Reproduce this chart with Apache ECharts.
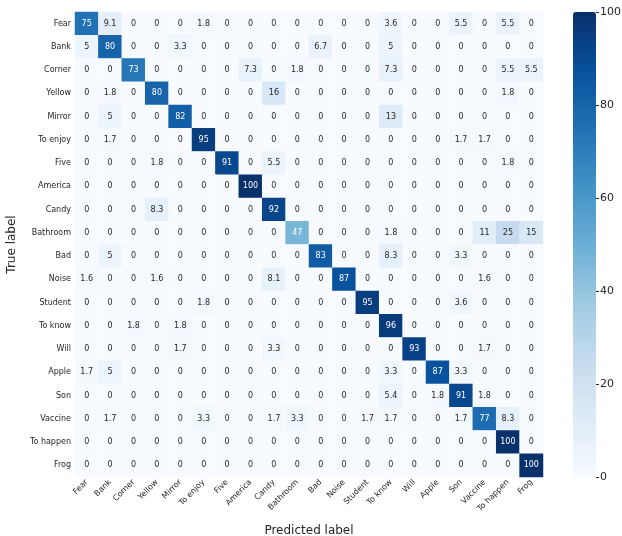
<!DOCTYPE html>
<html>
<head>
<meta charset="utf-8">
<script src="https://cdn.jsdelivr.net/npm/echarts@6/dist/echarts.min.js"></script>
<style>
  html, body { margin: 0; padding: 0; background: #fff; }
  #chart { width: 622px; height: 536px; }
</style>
</head>
<body>
<div id="chart"></div>
<script>
// class names (rows = true label, columns = predicted label)
const labels = ['Fear', 'Bank', 'Corner', 'Yellow', 'Mirror', 'To enjoy', 'Five', 'America', 'Candy', 'Bathroom',
  'Bad', 'Noise', 'Student', 'To know', 'Will', 'Apple', 'Son', 'Vaccine', 'To happen', 'Frog'];

// percentages as shown in the cells
const matrix = [
  [75, 9.1, 0, 0, 0, 1.8, 0, 0, 0, 0, 0, 0, 0, 3.6, 0, 0, 5.5, 0, 5.5, 0],
  [5, 80, 0, 0, 3.3, 0, 0, 0, 0, 0, 6.7, 0, 0, 5, 0, 0, 0, 0, 0, 0],
  [0, 0, 73, 0, 0, 0, 0, 7.3, 0, 1.8, 0, 0, 0, 7.3, 0, 0, 0, 0, 5.5, 5.5],
  [0, 1.8, 0, 80, 0, 0, 0, 0, 16, 0, 0, 0, 0, 0, 0, 0, 0, 0, 1.8, 0],
  [0, 5, 0, 0, 82, 0, 0, 0, 0, 0, 0, 0, 0, 13, 0, 0, 0, 0, 0, 0],
  [0, 1.7, 0, 0, 0, 95, 0, 0, 0, 0, 0, 0, 0, 0, 0, 0, 1.7, 1.7, 0, 0],
  [0, 0, 0, 1.8, 0, 0, 91, 0, 5.5, 0, 0, 0, 0, 0, 0, 0, 0, 0, 1.8, 0],
  [0, 0, 0, 0, 0, 0, 0, 100, 0, 0, 0, 0, 0, 0, 0, 0, 0, 0, 0, 0],
  [0, 0, 0, 8.3, 0, 0, 0, 0, 92, 0, 0, 0, 0, 0, 0, 0, 0, 0, 0, 0],
  [0, 0, 0, 0, 0, 0, 0, 0, 0, 47, 0, 0, 0, 1.8, 0, 0, 0, 11, 25, 15],
  [0, 5, 0, 0, 0, 0, 0, 0, 0, 0, 83, 0, 0, 8.3, 0, 0, 3.3, 0, 0, 0],
  [1.6, 0, 0, 1.6, 0, 0, 0, 0, 8.1, 0, 0, 87, 0, 0, 0, 0, 0, 1.6, 0, 0],
  [0, 0, 0, 0, 0, 1.8, 0, 0, 0, 0, 0, 0, 95, 0, 0, 0, 3.6, 0, 0, 0],
  [0, 0, 1.8, 0, 1.8, 0, 0, 0, 0, 0, 0, 0, 0, 96, 0, 0, 0, 0, 0, 0],
  [0, 0, 0, 0, 1.7, 0, 0, 0, 3.3, 0, 0, 0, 0, 0, 93, 0, 0, 1.7, 0, 0],
  [1.7, 5, 0, 0, 0, 0, 0, 0, 0, 0, 0, 0, 0, 3.3, 0, 87, 3.3, 0, 0, 0],
  [0, 0, 0, 0, 0, 0, 0, 0, 0, 0, 0, 0, 0, 5.4, 0, 1.8, 91, 1.8, 0, 0],
  [0, 1.7, 0, 0, 0, 3.3, 0, 0, 1.7, 3.3, 0, 0, 1.7, 1.7, 0, 0, 1.7, 77, 8.3, 0],
  [0, 0, 0, 0, 0, 0, 0, 0, 0, 0, 0, 0, 0, 0, 0, 0, 0, 0, 100, 0],
  [0, 0, 0, 0, 0, 0, 0, 0, 0, 0, 0, 0, 0, 0, 0, 0, 0, 0, 0, 100]
];

const colorbarTicks = [0, 20, 40, 60, 80, 100];

// matplotlib "Blues"
const blues = ['#f7fbff', '#deebf7', '#c6dbef', '#9ecae1', '#6baed6', '#4292c6', '#2171b5', '#08519c', '#08306b'];

const font = 'DejaVu Sans';
const data = [];
matrix.forEach((row, i) => {
  row.forEach((v, j) => {
    data.push({
      value: [j, i, v],
      label: { color: v >= 40 ? '#ffffff' : '#262626' }
    });
  });
});

const chart = echarts.init(document.getElementById('chart'));
chart.setOption({
  animation: false,
  textStyle: { fontFamily: font },
  grid: [
    { left: 75, top: 12, width: 468, height: 465, outerBoundsMode: 'none' },
    { left: 573, top: 12, width: 23, height: 465, outerBoundsMode: 'none' }
  ],
  xAxis: [
    {
      type: 'category',
      data: labels,
      gridIndex: 0,
      position: 'bottom',
      axisLine: { show: false },
      axisTick: { length: 3, alignWithLabel: true, lineStyle: { color: '#262626' } },
      splitLine: { show: false },
      axisLabel: { rotate: 45, fontSize: 8, color: '#262626', margin: 4, interval: 0 },
      name: 'Predicted label',
      nameLocation: 'middle',
      nameGap: 48,
      nameTextStyle: { fontSize: 12, color: '#262626' }
    },
    { type: 'value', gridIndex: 1, show: false, min: 0, max: 1 }
  ],
  yAxis: [
    {
      type: 'category',
      data: labels,
      inverse: true,
      gridIndex: 0,
      axisLine: { show: false },
      axisTick: { length: 3, alignWithLabel: true, lineStyle: { color: '#262626' } },
      splitLine: { show: false },
      axisLabel: { fontSize: 8, color: '#262626', margin: 4, interval: 0 },
      name: 'True label',
      nameLocation: 'middle',
      nameGap: 57,
      nameTextStyle: { fontSize: 12, color: '#262626' }
    },
    {
      type: 'value',
      gridIndex: 1,
      position: 'right',
      min: colorbarTicks[0],
      max: colorbarTicks[colorbarTicks.length - 1],
      interval: 20,
      axisLine: { show: false, onZero: false },
      axisTick: { show: true, length: 3, lineStyle: { color: '#262626' } },
      splitLine: { show: false },
      axisLabel: { fontSize: 11, color: '#262626', margin: 4 }
    }
  ],
  visualMap: {
    type: 'continuous',
    seriesIndex: 0,
    min: 0,
    max: 100,
    calculable: false,
    orient: 'vertical',
    left: 573,
    top: 12,
    padding: 0,
    itemWidth: 23,
    itemHeight: 465,
    text: ['', ''],
    textGap: 0,
    hoverLink: false,
    inRange: { color: blues }
  },
  series: [
    {
      type: 'heatmap',
      xAxisIndex: 0,
      yAxisIndex: 0,
      data: data,
      label: {
        show: true,
        fontSize: 8,
        formatter: p => String(p.value[2])
      },
      emphasis: { disabled: true }
    }
  ]
});
</script>
</body>
</html>
